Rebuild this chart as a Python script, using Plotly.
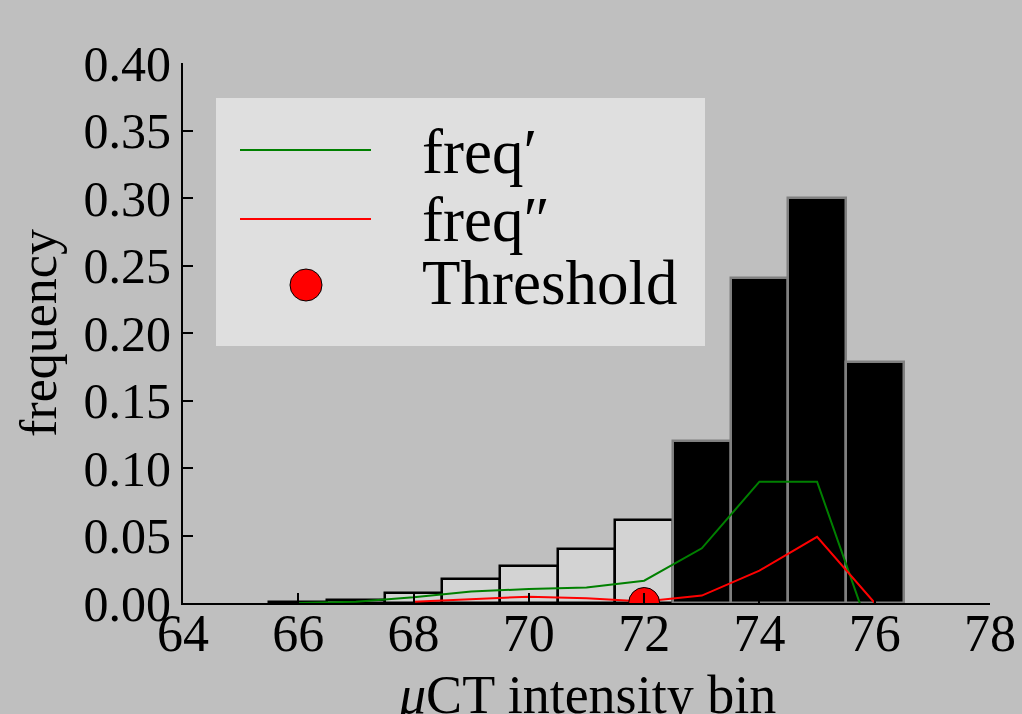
import plotly.graph_objects as go

# Histogram of µCT intensity bins
bins = [66, 67, 68, 69, 70, 71, 72, 73, 74, 75, 76]
frequency = [0.0008, 0.0019, 0.0074, 0.0176, 0.0276, 0.0398, 0.0613,
             0.1200, 0.2410, 0.3002, 0.1783]
threshold_bin = 72

# First and second derivative curves
deriv_x = [66, 67, 68, 69, 70, 71, 72, 73, 74, 75, 76]
freq_d1 = [0.0, 0.001, 0.0042, 0.0085, 0.0104, 0.0114, 0.0165,
           0.0405, 0.0899, 0.0899, -0.0316]
deriv2_x = [68, 69, 70, 71, 72, 73, 74, 75, 76]
freq_d2 = [0.001, 0.003, 0.0047, 0.0035, 0.0012, 0.0055, 0.024, 0.049, 0.0]

threshold_y = [0.0]

legend_labels = ["freq′", "freq″", "Threshold"]

FONT = "Liberation Serif"
BG = "#bfbfbf"

below = [(b, f) for b, f in zip(bins, frequency) if b <= threshold_bin]
above = [(b, f) for b, f in zip(bins, frequency) if b > threshold_bin]

fig = go.Figure()
fig.add_trace(go.Bar(
    x=[b for b, _ in below], y=[f for _, f in below], width=1.0,
    marker=dict(color="#d3d3d3", line=dict(color="black", width=2.5)),
    showlegend=False))
fig.add_trace(go.Bar(
    x=[b for b, _ in above], y=[f for _, f in above], width=1.0,
    marker=dict(color="black", line=dict(color="#808080", width=2.5)),
    showlegend=False))
fig.add_trace(go.Scatter(
    x=deriv_x, y=freq_d1, mode="lines",
    line=dict(color="#008000", width=2), showlegend=False))
fig.add_trace(go.Scatter(
    x=deriv2_x, y=freq_d2, mode="lines",
    line=dict(color="#ff0000", width=2), showlegend=False))
fig.add_trace(go.Scatter(
    x=[threshold_bin], y=threshold_y, mode="markers",
    marker=dict(color="#ff0000", size=31, line=dict(color="black", width=1)),
    showlegend=False))

# plot area in pixels
L, R, T, B = 183, 990, 63, 603
W, H = 1022, 714


def px(xp):
    return (xp - L) / (R - L)


def py(yp):
    return (B - yp) / (B - T)


shapes = [
    # legend frame
    dict(type="rect", xref="paper", yref="paper",
         x0=px(216), x1=px(705), y0=py(346), y1=py(98),
         fillcolor="#dfdfdf", line=dict(width=0), layer="above"),
    dict(type="line", xref="paper", yref="paper",
         x0=px(240), x1=px(371), y0=py(150), y1=py(150),
         line=dict(color="#008000", width=2), layer="above"),
    dict(type="line", xref="paper", yref="paper",
         x0=px(240), x1=px(371), y0=py(219), y1=py(219),
         line=dict(color="#ff0000", width=2), layer="above"),
    dict(type="circle", xref="paper", yref="paper",
         x0=px(306 - 16), x1=px(306 + 16), y0=py(285 + 16), y1=py(285 - 16),
         fillcolor="#ff0000", line=dict(color="black", width=1), layer="above"),
]

annotations = []
for label, yc in zip(legend_labels, [152, 220, 283]):
    annotations.append(dict(
        xref="paper", yref="paper", x=px(420), y=py(yc),
        xanchor="left", yanchor="middle", showarrow=False,
        text=label, font=dict(family=FONT, size=63, color="black")))

# x-axis title sits just above the bottom edge
annotations.append(dict(
    xref="paper", yref="paper", x=0.5, y=py(695),
    xanchor="center", yanchor="middle", showarrow=False,
    text="<i>μ</i>CT intensity bin",
    font=dict(family=FONT, size=54, color="black")))

fig.update_layout(
    width=W, height=H,
    margin=dict(l=L, r=W - R, t=T, b=H - B),
    paper_bgcolor=BG, plot_bgcolor=BG,
    barmode="overlay", bargap=0,
    font=dict(family=FONT, color="black"),
    shapes=shapes, annotations=annotations,
)
fig.update_xaxes(
    range=[64, 78], dtick=2, tick0=64, automargin=False,
    showgrid=False, zeroline=False,
    showline=True, linecolor="black", linewidth=2,
    ticks="inside", ticklen=10, tickwidth=1.5, tickcolor="black",
    tickfont=dict(family=FONT, size=52), ticklabelstandoff=-16,
)
fig.update_yaxes(
    range=[0, 0.40], dtick=0.05, tick0=0, tickformat=".2f", automargin=False,
    showgrid=False, zeroline=False,
    showline=True, linecolor="black", linewidth=2,
    ticks="inside", ticklen=10, tickwidth=1.5, tickcolor="black",
    tickfont=dict(family=FONT, size=50),
    title=dict(text="frequency", font=dict(family=FONT, size=52), standoff=10),
)

fig.write_html("out.html")
